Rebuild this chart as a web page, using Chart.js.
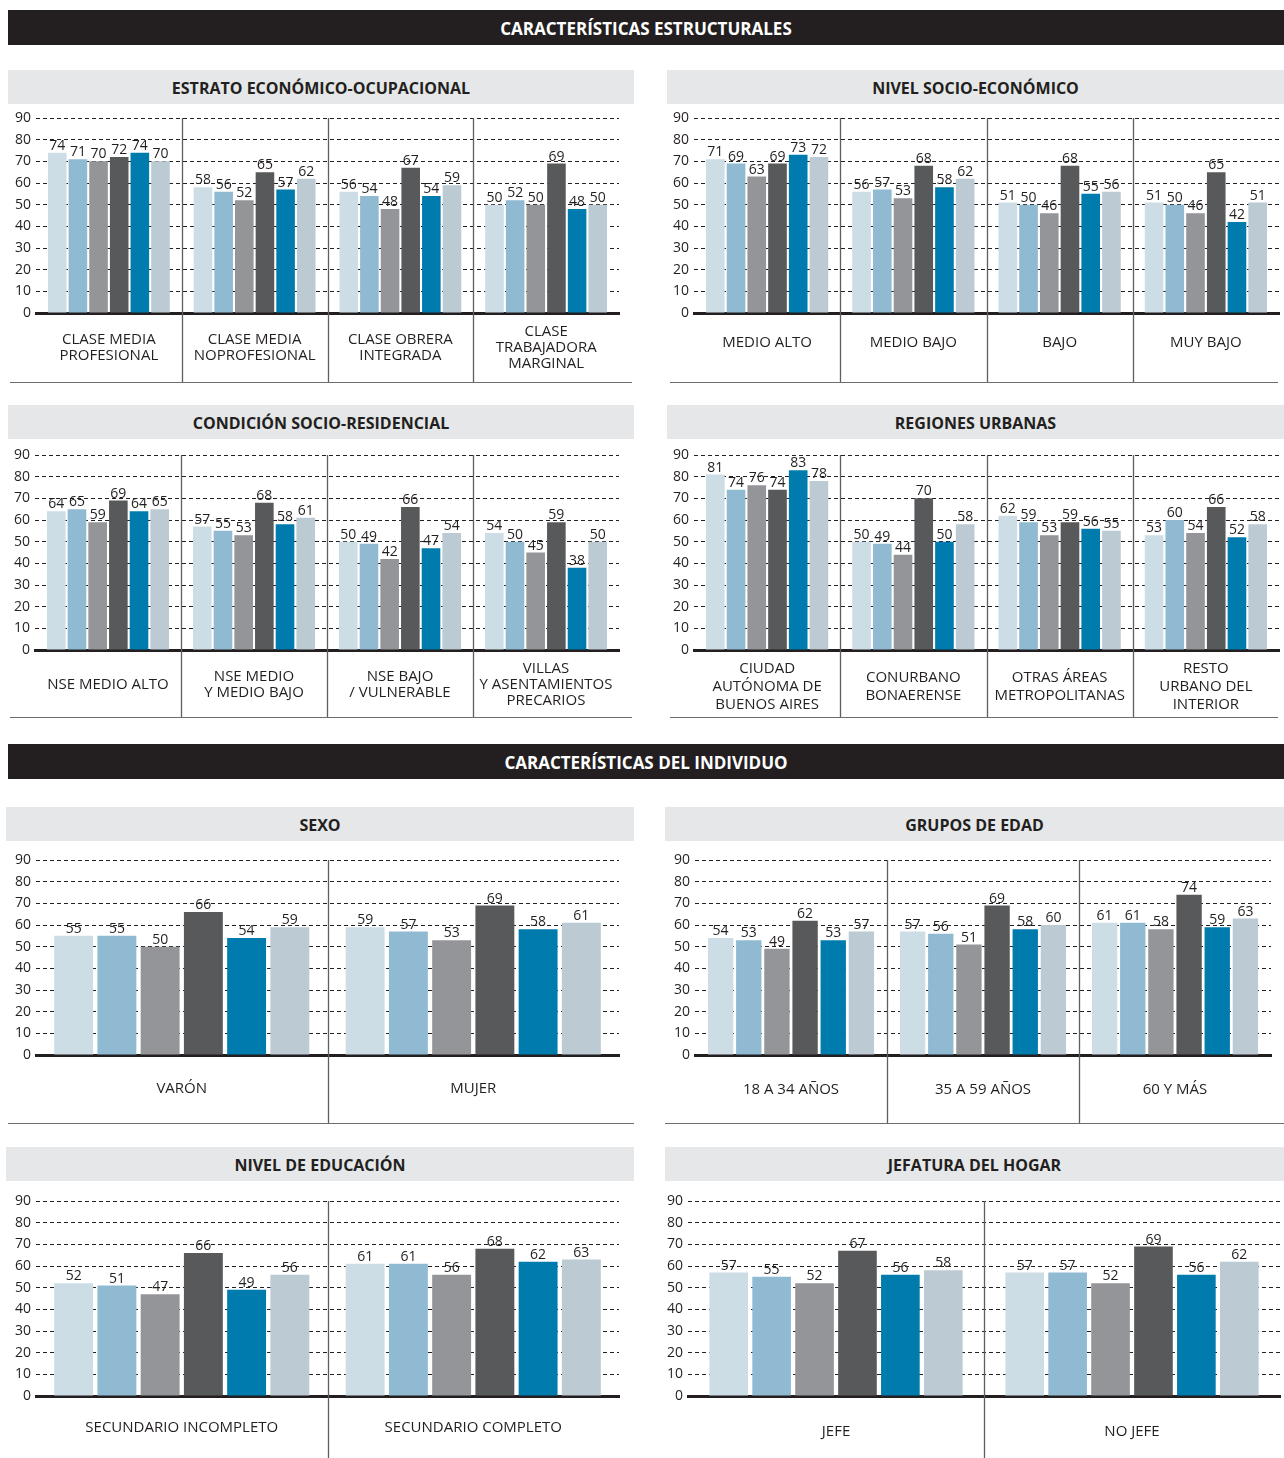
<!DOCTYPE html>
<html lang="es">
<head>
<meta charset="utf-8">
<script src="https://cdn.jsdelivr.net/npm/chart.js@4.4.1/dist/chart.umd.min.js"></script>
<style>
  body { margin: 0; width: 1284px; height: 1458px; background: #fff; position: relative; overflow: hidden;
         font-family: 'Open Sans', sans-serif; color: #231f20; }
  .band { position: absolute; left: 8px; width: 1276px; height: 35px; background: #231f20; color: #fff;
          font-weight: 700; font-size: 17px; line-height: 37px; text-align: center; }
  .head { position: absolute; height: 34px; background: #e6e7e8; font-weight: 700; font-size: 16px;
          line-height: 36px; text-align: center; }
  .rule { position: absolute; height: 0; border-top: 1.5px solid #6d6e71; }
  .box { position: absolute; }
</style>
</head>
<body>

<div class="band" style="top:10px">CARACTERÍSTICAS ESTRUCTURALES</div>
<div class="head" style="left:8px;top:70px;width:626px">ESTRATO ECONÓMICO-OCUPACIONAL</div>
<div class="head" style="left:667px;top:70px;width:617px">NIVEL SOCIO-ECONÓMICO</div>
<div class="head" style="left:8px;top:405px;width:626px">CONDICIÓN SOCIO-RESIDENCIAL</div>
<div class="head" style="left:667px;top:405px;width:617px">REGIONES URBANAS</div>

<div class="band" style="top:744px">CARACTERÍSTICAS DEL INDIVIDUO</div>
<div class="head" style="left:6px;top:807px;width:628px">SEXO</div>
<div class="head" style="left:665px;top:807px;width:619px">GRUPOS DE EDAD</div>
<div class="head" style="left:6px;top:1147px;width:628px">NIVEL DE EDUCACIÓN</div>
<div class="head" style="left:665px;top:1147px;width:619px">JEFATURA DEL HOGAR</div>

<div class="box" style="left:0;top:104px"><canvas id="estrato" width="640" height="279"></canvas></div>
<div class="box" style="left:650px;top:104px"><canvas id="nse" width="634" height="279"></canvas></div>
<div class="box" style="left:0;top:439px"><canvas id="condicion" width="640" height="279"></canvas></div>
<div class="box" style="left:650px;top:439px"><canvas id="regiones" width="634" height="279"></canvas></div>
<div class="box" style="left:0;top:841px"><canvas id="sexo" width="640" height="283"></canvas></div>
<div class="box" style="left:650px;top:841px"><canvas id="edad" width="634" height="283"></canvas></div>
<div class="box" style="left:0;top:1181px"><canvas id="educacion" width="640" height="277"></canvas></div>
<div class="box" style="left:650px;top:1181px"><canvas id="jefatura" width="634" height="277"></canvas></div>

<div class="rule" style="left:10px;top:382px;width:622px"></div>
<div class="rule" style="left:670px;top:382px;width:608px"></div>
<div class="rule" style="left:10px;top:717px;width:622px"></div>
<div class="rule" style="left:670px;top:717px;width:608px"></div>
<div class="rule" style="left:8px;top:1123px;width:626px"></div>
<div class="rule" style="left:665px;top:1123px;width:619px"></div>

<script>
const seriesColors = ['#cddde6', '#8fbad1', '#939598', '#58595b', '#007bad', '#bccad3'];
const yMax = 90;
const yStep = 10;

const estratoLabels = [['CLASE MEDIA', 'PROFESIONAL'], ['CLASE MEDIA', 'NOPROFESIONAL'], ['CLASE OBRERA', 'INTEGRADA'], ['CLASE', 'TRABAJADORA', 'MARGINAL']];
const estratoValues = [[74, 71, 70, 72, 74, 70], [58, 56, 52, 65, 57, 62], [56, 54, 48, 67, 54, 59], [50, 52, 50, 69, 48, 50]];

const nseLabels = [['MEDIO ALTO'], ['MEDIO BAJO'], ['BAJO'], ['MUY BAJO']];
const nseValues = [[71, 69, 63, 69, 73, 72], [56, 57, 53, 68, 58, 62], [51, 50, 46, 68, 55, 56], [51, 50, 46, 65, 42, 51]];

const condicionLabels = [['NSE MEDIO ALTO'], ['NSE MEDIO', 'Y MEDIO BAJO'], ['NSE BAJO', '/ VULNERABLE'], ['VILLAS', 'Y ASENTAMIENTOS', 'PRECARIOS']];
const condicionValues = [[64, 65, 59, 69, 64, 65], [57, 55, 53, 68, 58, 61], [50, 49, 42, 66, 47, 54], [54, 50, 45, 59, 38, 50]];

const regionesLabels = [['CIUDAD', 'AUTÓNOMA DE', 'BUENOS AIRES'], ['CONURBANO', 'BONAERENSE'], ['OTRAS ÁREAS', 'METROPOLITANAS'], ['RESTO', 'URBANO DEL', 'INTERIOR']];
const regionesValues = [[81, 74, 76, 74, 83, 78], [50, 49, 44, 70, 50, 58], [62, 59, 53, 59, 56, 55], [53, 60, 54, 66, 52, 58]];

const sexoLabels = [['VARÓN'], ['MUJER']];
const sexoValues = [[55, 55, 50, 66, 54, 59], [59, 57, 53, 69, 58, 61]];

const edadLabels = [['18 A 34 AÑOS'], ['35 A 59 AÑOS'], ['60 Y MÁS']];
const edadValues = [[54, 53, 49, 62, 53, 57], [57, 56, 51, 69, 58, 60], [61, 61, 58, 74, 59, 63]];

const educacionLabels = [['SECUNDARIO INCOMPLETO'], ['SECUNDARIO COMPLETO']];
const educacionValues = [[52, 51, 47, 66, 49, 56], [61, 61, 56, 68, 62, 63]];

const jefaturaLabels = [['JEFE'], ['NO JEFE']];
const jefaturaValues = [[57, 55, 52, 67, 56, 58], [57, 57, 52, 69, 56, 62]];

const fontFamily = "'Open Sans', sans-serif";
const ink = '#231f20';

// vertical separators between the groups
const groupLines = {
    id: 'groupLines',
    beforeDatasetsDraw(chart) {
        const x = chart.scales.x;
        const ctx = chart.ctx;
        ctx.save();
        ctx.strokeStyle = '#5d5e61';
        ctx.lineWidth = 1.3;
        for (let i = 1; i < chart.data.labels.length; i++) {
            const px = Math.round((x.getPixelForValue(i - 1) + x.getPixelForValue(i)) / 2) + 0.5;
            ctx.beginPath();
            ctx.moveTo(px, chart.chartArea.top);
            ctx.lineTo(px, chart.height);
            ctx.stroke();
        }
        ctx.restore();
    }
};

// numbers above the bars
const valueLabels = {
    id: 'valueLabels',
    afterDatasetsDraw(chart) {
        const ctx = chart.ctx;
        ctx.save();
        ctx.font = '14px ' + fontFamily;
        ctx.fillStyle = ink;
        ctx.textAlign = 'center';
        ctx.textBaseline = 'alphabetic';
        chart.data.datasets.forEach(function(ds, i) {
            chart.getDatasetMeta(i).data.forEach(function(bar, j) {
                ctx.fillText(ds.data[j], bar.x, bar.y - 3);
            });
        });
        ctx.restore();
    }
};

// category names, centred below the axis
const catLabels = {
    id: 'catLabels',
    afterDraw(chart, args, opts) {
        const x = chart.scales.x;
        const ctx = chart.ctx;
        const cy = chart.chartArea.bottom + opts.offset;
        ctx.save();
        ctx.font = '15px ' + fontFamily;
        ctx.fillStyle = ink;
        ctx.textAlign = 'center';
        ctx.textBaseline = 'middle';
        chart.data.labels.forEach(function(lines, i) {
            const px = x.getPixelForValue(i);
            lines.forEach(function(line, k) {
                ctx.fillText(line, px, cy + (k - (lines.length - 1) / 2) * opts.lineHeight);
            });
        });
        ctx.restore();
    }
};

function drawPanel(id, labels, values, lay) {
    new Chart(document.getElementById(id), {
        type: 'bar',
        data: {
            labels: labels,
            datasets: seriesColors.map(function(c, s) {
                return {
                    data: values.map(function(row) { return row[s]; }),
                    backgroundColor: c,
                    borderWidth: 0
                };
            })
        },
        options: {
            responsive: false,
            animation: false,
            layout: { padding: { top: lay.top, right: lay.right, left: 0, bottom: 0 } },
            datasets: { bar: { categoryPercentage: lay.cat, barPercentage: 0.9 } },
            plugins: {
                legend: { display: false },
                tooltip: { enabled: false },
                catLabels: { offset: lay.offset, lineHeight: lay.lineHeight || 16 }
            },
            scales: {
                x: {
                    ticks: { display: false },
                    grid: { display: false },
                    border: { color: ink, width: 3 },
                    afterFit: function(scale) { scale.height = lay.axisH; }
                },
                y: {
                    min: 0,
                    max: yMax,
                    ticks: { stepSize: yStep, color: ink, padding: 5, font: { size: 14, family: fontFamily } },
                    grid: { color: ink, lineWidth: 1, drawTicks: false },
                    border: { display: false, dash: [4, 3] },
                    afterFit: function(scale) { scale.width = lay.left; }
                }
            }
        },
        plugins: [groupLines, valueLabels, catLabels]
    });
}

drawPanel('estrato', estratoLabels, estratoValues, { left: 36, right: 21, top: 14, axisH: 70, cat: 0.85, offset: 35 });
drawPanel('nse', nseLabels, nseValues, { left: 44, right: 5, top: 14, axisH: 70, cat: 0.85, offset: 30 });
drawPanel('condicion', condicionLabels, condicionValues, { left: 35, right: 21, top: 16, axisH: 68, cat: 0.85, offset: 35 });
drawPanel('regiones', regionesLabels, regionesValues, { left: 44, right: 5, top: 16, axisH: 68, cat: 0.85, offset: 37, lineHeight: 18 });
drawPanel('sexo', sexoLabels, sexoValues, { left: 36, right: 21, top: 19, axisH: 69, cat: 0.89, offset: 34 });
drawPanel('edad', edadLabels, edadValues, { left: 45, right: 13, top: 19, axisH: 69, cat: 0.88, offset: 35 });
drawPanel('educacion', educacionLabels, educacionValues, { left: 36, right: 21, top: 20, axisH: 62, cat: 0.89, offset: 32 });
drawPanel('jefatura', jefaturaLabels, jefaturaValues, { left: 38, right: 4, top: 20, axisH: 62, cat: 0.87, offset: 36 });
</script>
</body>
</html>
